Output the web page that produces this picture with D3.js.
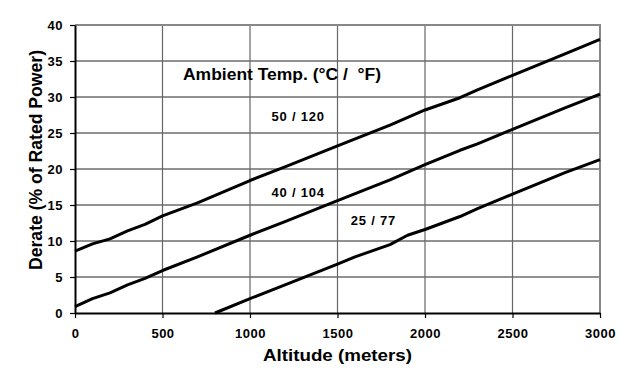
<!DOCTYPE html>
<html>
<head>
<meta charset="utf-8">
<script src="https://cdn.jsdelivr.net/npm/d3@7"></script>
<style>
  body { margin: 0; background: #fff; }
  text { font-family: "Liberation Sans", Arial, sans-serif; font-weight: bold; fill: #000; }
</style>
</head>
<body>
<div id="chart"></div>
<script>
// derate curves (altitude in meters, derate in %)
var line50 = [[0,8.6],[100,9.6],[200,10.3],[300,11.4],[400,12.3],[500,13.5],[700,15.3],[1000,18.4],[1200,20.3],[1500,23.2],[1800,26.1],[2000,28.2],[2200,29.9],[2300,31],[2500,33],[2800,36],[3000,38]];
var line40 = [[0,0.9],[100,2],[200,2.8],[300,3.9],[400,4.8],[500,5.9],[700,7.8],[1000,10.8],[1200,12.7],[1500,15.6],[1800,18.5],[2000,20.6],[2200,22.6],[2300,23.5],[2500,25.5],[2800,28.5],[3000,30.4]];
var line25 = [[800,0],[1000,2],[1200,3.9],[1500,6.8],[1600,7.8],[1800,9.5],[1900,10.8],[2000,11.6],[2200,13.4],[2300,14.5],[2500,16.5],[2800,19.5],[3000,21.3]];

var xTicks = [0, 500, 1000, 1500, 2000, 2500, 3000];
var yTicks = [0, 5, 10, 15, 20, 25, 30, 35, 40];

// curve labels: [text, altitude, derate]
var labels = [["50 / 120", 1275, 26.6], ["40 / 104", 1275, 16.1], ["25 / 77", 1705, 12.2]];

var margin = {top: 25, right: 35, bottom: 64, left: 75},
    width = 635 - margin.left - margin.right,
    height = 377 - margin.top - margin.bottom;

var svg = d3.select("#chart")
  .append("svg")
    .attr("width", 635)
    .attr("height", 377)
  .append("g")
    .attr("transform", "translate(" + margin.left + "," + margin.top + ")");

var x = d3.scaleLinear().domain([0, 3000]).range([0, width]);
var y = d3.scaleLinear().domain([0, 40]).range([height, 0]);

// grid
svg.append("g").selectAll("line")
  .data(yTicks.slice(1, -1))
  .enter().append("line")
    .attr("x1", 0).attr("x2", width)
    .attr("y1", d => y(d)).attr("y2", d => y(d))
    .attr("stroke", "#222").attr("stroke-width", 1);

svg.append("g").selectAll("line")
  .data(xTicks.slice(1, -1))
  .enter().append("line")
    .attr("y1", 0).attr("y2", height)
    .attr("x1", d => x(d)).attr("x2", d => x(d))
    .attr("stroke", "#666").attr("stroke-width", 1.2);

// top and right frame
svg.append("path")
  .attr("d", "M0,0H" + width + "V" + height)
  .attr("fill", "none")
  .attr("stroke", "#888")
  .attr("stroke-width", 2);

// axes
var xAxis = svg.append("g")
  .attr("transform", "translate(0," + height + ")")
  .call(d3.axisBottom(x).tickValues(xTicks).tickFormat(d3.format("d")).tickSize(5).tickPadding(11).tickSizeOuter(0));
var yAxis = svg.append("g")
  .call(d3.axisLeft(y).tickValues(yTicks).tickSize(5).tickPadding(7).tickSizeOuter(0));

[xAxis, yAxis].forEach(function(a) {
  a.select(".domain").attr("stroke", "#000").attr("stroke-width", 2);
  a.selectAll(".tick line").attr("stroke", "#000").attr("stroke-width", 1.2);
  a.selectAll(".tick text").style("font-size", "13px").style("font-weight", "bold")
    .style("letter-spacing", "0.5px")
    .style("font-family", "'Liberation Sans', Arial, sans-serif").attr("fill", "#000");
});

// curves
var line = d3.line().x(d => x(d[0])).y(d => y(d[1]));
[line50, line40, line25].forEach(function(data) {
  svg.append("path")
    .datum(data)
    .attr("d", line)
    .attr("fill", "none")
    .attr("stroke", "#000")
    .attr("stroke-width", 3)
    .attr("stroke-linejoin", "round");
});

// labels
svg.append("text")
  .attr("x", 108).attr("y", 55)
  .attr("textLength", 198)
  .attr("lengthAdjust", "spacingAndGlyphs")
  .style("font-size", "16px")
  .style("white-space", "pre")
  .text("Ambient Temp. (°C /  °F)");

svg.selectAll(".lbl")
  .data(labels)
  .enter().append("text")
    .attr("class", "lbl")
    .attr("x", d => x(d[1]))
    .attr("y", d => y(d[2]))
    .attr("text-anchor", "middle")
    .style("font-size", "13px")
    .style("letter-spacing", "0.8px")
    .text(d => d[0]);

// axis titles
svg.append("text")
  .attr("x", width / 2).attr("y", height + 48)
  .attr("text-anchor", "middle")
  .attr("textLength", 149)
  .attr("lengthAdjust", "spacingAndGlyphs")
  .style("font-size", "17px")
  .text("Altitude (meters)");

svg.append("text")
  .attr("transform", "translate(-33," + (height / 2 - 9) + ") rotate(-90)")
  .attr("text-anchor", "middle")
  .attr("textLength", 220)
  .attr("lengthAdjust", "spacingAndGlyphs")
  .style("font-size", "18px")
  .text("Derate (% of Rated Power)");
</script>
</body>
</html>
